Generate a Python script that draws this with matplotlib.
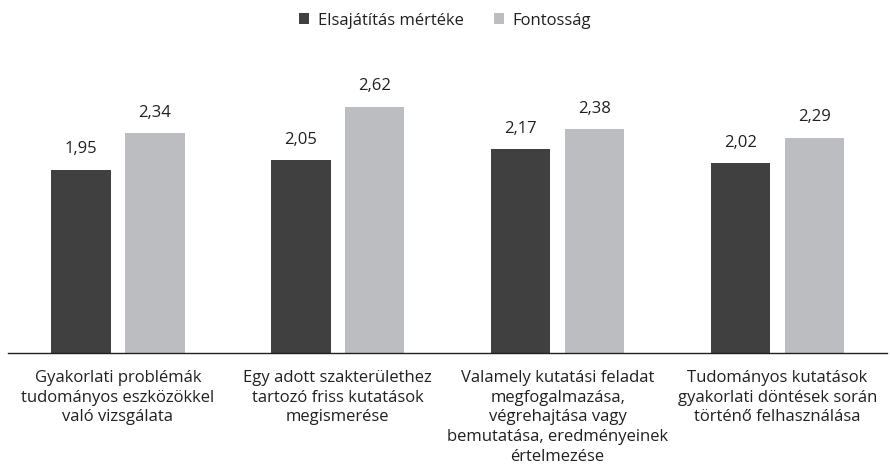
import numpy as np
import matplotlib.pyplot as plt

plt.rcParams['font.family'] = ['Open Sans', 'DejaVu Sans']

categories = [
    'Gyakorlati problémák\ntudományos eszközökkel\nvaló vizsgálata',
    'Egy adott szakterülethez\ntartozó friss kutatások\nmegismerése',
    'Valamely kutatási feladat\nmegfogalmazása,\nvégrehajtása vagy\nbemutatása, eredményeinek\nértelmezése',
    'Tudományos kutatások\ngyakorlati döntések során\ntörténő felhasználása',
]
elsajatitas = [1.95, 2.05, 2.17, 2.02]
fontossag = [2.34, 2.62, 2.38, 2.29]

dark = '#404040'
light = '#bcbdc0'
text_color = '#231f20'

fig = plt.figure(figsize=(8.9, 4.74), dpi=100)
ax = fig.add_axes([0.009, 0.255, 0.988, 0.595])

x = np.arange(len(categories))
w = 0.27
off = 0.168
b1 = ax.bar(x - off, elsajatitas, w, color=dark, label='Elsajátítás mértéke')
b2 = ax.bar(x + off, fontossag, w, color=light, label='Fontosság')

for bars, vals in ((b1, elsajatitas), (b2, fontossag)):
    for rect, v in zip(bars, vals):
        ax.annotate(f'{v:.2f}'.replace('.', ','),
                    (rect.get_x() + rect.get_width() / 2, rect.get_height()),
                    xytext=(0, 9), textcoords='offset points',
                    ha='center', va='bottom', fontsize=12, color=text_color)

ax.set_xlim(-0.5, 3.5)
ax.set_ylim(0, 3)
ax.set_yticks([])
ax.set_xticks(x)
ax.set_xticklabels(categories, fontsize=12, color=text_color, linespacing=1.32)
ax.tick_params(axis='x', length=0, pad=12)
for s in ('top', 'right', 'left'):
    ax.spines[s].set_visible(False)
ax.spines['bottom'].set_color('#231f20')
ax.spines['bottom'].set_linewidth(1.0)

fig.legend(loc='upper center', bbox_to_anchor=(0.5, 1.005), ncol=2, frameon=False,
           fontsize=12, handlelength=0.6, handleheight=0.6, handletextpad=0.5,
           columnspacing=1.8, labelcolor=text_color)

fig.savefig('out.png', dpi=100)
